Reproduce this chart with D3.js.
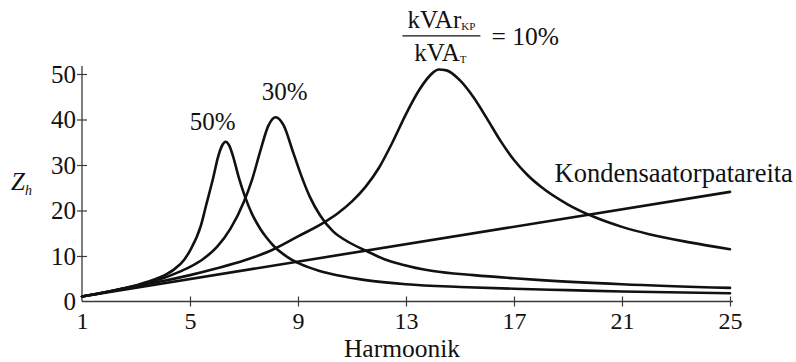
<!DOCTYPE html>
<html>
<head>
<meta charset="utf-8">
<script src="https://cdn.jsdelivr.net/npm/d3@7/dist/d3.min.js"></script>
<style>
  html, body { margin: 0; padding: 0; background: #fff; }
  svg { display: block; }
  text { font-family: "Liberation Serif", "Times New Roman", serif; fill: #111; }
</style>
</head>
<body>
<svg id="chart" width="796" height="362"></svg>
<script>
// Harmonic impedance Z_h for three capacitor-bank ratings and the bank alone.
const xTicks = [1, 5, 9, 13, 17, 21, 25];
const yTicks = [0, 10, 20, 30, 40, 50];

// kVAr_KP / kVA_T = 50 %
const h50 = [1, 2, 3, 3.4, 4, 4.4, 4.8, 5.0, 5.4, 5.6, 5.86, 6.05, 6.2, 6.32, 6.45, 6.6, 6.8, 7.04, 7.3, 7.6, 7.84, 8.1, 8.6, 9.1, 9.8, 10.5, 11.5, 13, 15, 17, 19, 21, 25];
const z50 = [1.1, 2.2, 3.5, 4.3, 5.6, 7.0, 9.3, 11.2, 16.6, 21.2, 27.2, 32.0, 34.4, 35.1, 34.3, 31.8, 27.4, 23.0, 19.2, 16.0, 14.0, 12.2, 9.8, 8.2, 6.7, 5.7, 4.7, 3.8, 3.2, 2.8, 2.5, 2.2, 1.8];

// 30 %
const h30 = [1, 2, 3, 4, 4.6, 5.0, 5.5, 6.0, 6.5, 7.0, 7.3, 7.6, 7.9, 8.17, 8.46, 8.83, 9.1, 9.44, 9.81, 10.3, 10.8, 11.5, 12.2, 12.8, 14, 15.5, 17, 18, 21, 25];
const z30 = [1.1, 2.2, 3.5, 5.1, 6.5, 7.6, 9.4, 12.0, 16.0, 22.0, 26.8, 33.0, 38.6, 40.5, 38.8, 32.6, 28.0, 23.0, 19.0, 15.4, 13.3, 11.2, 9.3, 8.2, 6.7, 5.8, 5.1, 4.7, 3.8, 3.0];

// 10 %
const h10 = [1, 2, 3, 4, 5, 6, 7, 8, 9, 10, 10.5, 11, 11.5, 12, 12.5, 13, 13.5, 14, 14.2, 14.5, 15, 15.5, 16, 16.5, 17, 17.5, 18, 19, 20, 21, 22, 23.5, 25];
const z10 = [1.1, 2.2, 3.4, 4.5, 5.8, 7.3, 9.0, 11.2, 14.3, 17.5, 19.5, 22.0, 25.2, 29.4, 35.0, 41.2, 46.6, 50.3, 51.0, 50.8, 48.6, 44.9, 40.2, 35.3, 31.1, 27.8, 25.2, 21.3, 18.5, 16.4, 14.8, 13.0, 11.5];

// Capacitor bank on its own
const hBank = [1, 25];
const zBank = [1.1, 24.1];

const svg = d3.select("#chart");

const x = d3.scaleLinear().domain([1, 25]).range([82, 730]);
const y = d3.scaleLinear().domain([0, 50]).range([301.5, 74]);

const axisColor = "#3a3a3a";

// Axis lines, drawn a little past the last ticks
svg.append("line")
  .attr("x1", x(1)).attr("x2", x(25) + 3)
  .attr("y1", y(0)).attr("y2", y(0))
  .attr("stroke", axisColor).attr("stroke-width", 1.3);
svg.append("line")
  .attr("x1", x(1)).attr("x2", x(1))
  .attr("y1", y(0)).attr("y2", y(50) - 8)
  .attr("stroke", axisColor).attr("stroke-width", 1.3);

// x axis
const gx = svg.append("g")
  .attr("transform", `translate(0,${y(0)})`)
  .call(d3.axisBottom(x).tickValues(xTicks).tickFormat(d3.format("d")).tickSize(5));
gx.select(".domain").remove();
gx.selectAll(".tick line")
  .attr("y1", -5).attr("y2", 5)
  .attr("stroke", axisColor).attr("stroke-width", 1.2);
gx.selectAll(".tick text")
  .attr("y", 27.5).attr("dy", null)
  .attr("font-size", 24)
  .attr("font-family", "Liberation Serif")
  .attr("fill", "#111");
// the first tick sits on the y axis: no tick mark there
gx.selectAll(".tick").filter(d => d === 1).select("line").remove();

// y axis
const gy = svg.append("g")
  .attr("transform", `translate(${x(1)},0)`)
  .call(d3.axisLeft(y).tickValues(yTicks).tickFormat(d3.format("d")).tickSize(5));
gy.select(".domain").remove();
gy.selectAll(".tick line")
  .attr("x1", -5).attr("x2", 5)
  .attr("stroke", axisColor).attr("stroke-width", 1.2);
gy.selectAll(".tick").filter(d => d === 0).select("line").remove();
gy.selectAll(".tick text")
  .attr("x", -6).attr("dy", "0.33em")
  .attr("font-size", 25)
  .attr("font-family", "Liberation Serif")
  .attr("fill", "#111");

// Axis titles
svg.append("text")
  .attr("x", x(13) - 4)
  .attr("y", 357)
  .attr("text-anchor", "middle")
  .attr("font-size", 25.5)
  .text("Harmoonik");

const zt = svg.append("text")
  .attr("x", 11)
  .attr("y", 190)
  .attr("font-size", 25)
  .attr("font-style", "italic");
zt.append("tspan").text("Z");
zt.append("tspan").attr("font-size", 14).attr("dy", 5).text("h");

// Curves
const line = d3.line()
  .x(d => x(d[0]))
  .y(d => y(d[1]))
  .curve(d3.curveMonotoneX);

const series = [
  { h: hBank, z: zBank },
  { h: h50, z: z50 },
  { h: h30, z: z30 },
  { h: h10, z: z10 }
];

svg.append("g")
  .selectAll("path")
  .data(series)
  .join("path")
  .attr("d", s => line(s.h.map((v, i) => [v, s.z[i]])))
  .attr("fill", "none")
  .attr("stroke", "#111")
  .attr("stroke-width", 2.6)
  .attr("stroke-linejoin", "round")
  .attr("stroke-linecap", "round");

// Curve labels placed from each peak
function peak(h, z) {
  const i = d3.maxIndex(z);
  return [h[i], z[i]];
}
const p50 = peak(h50, z50);
const p30 = peak(h30, z30);
const p10 = peak(h10, z10);

svg.append("text")
  .attr("x", x(p50[0]) - 13)
  .attr("y", y(p50[1]) - 12)
  .attr("text-anchor", "middle")
  .attr("font-size", 25)
  .text("50%");

svg.append("text")
  .attr("x", x(p30[0]) + 9)
  .attr("y", y(p30[1]) - 17)
  .attr("text-anchor", "middle")
  .attr("font-size", 25)
  .text("30%");

const bankLabelH = 18.5;
svg.append("text")
  .attr("x", x(bankLabelH))
  .attr("y", y(zBank[0] + (zBank[1] - zBank[0]) * (bankLabelH - hBank[0]) / (hBank[1] - hBank[0])) - 38)
  .attr("font-size", 26.5)
  .text("Kondensaatorpatareita");

// Ratio label above the 10 % peak: kVAr_KP / kVA_T = 10%
const fx = x(p10[0]) + 3;       // centre of the fraction
const fy = y(p10[1]) - 33.5;    // fraction bar
const frac = svg.append("g");
frac.append("line")
  .attr("x1", fx - 39).attr("x2", fx + 39)
  .attr("y1", fy).attr("y2", fy)
  .attr("stroke", "#111").attr("stroke-width", 1.3);
const num = frac.append("text")
  .attr("x", fx).attr("y", fy - 7.5)
  .attr("text-anchor", "middle")
  .attr("font-size", 25);
num.append("tspan").text("kVAr");
num.append("tspan").attr("font-size", 11).attr("dy", 2).text("KP");
const den = frac.append("text")
  .attr("x", fx - 1).attr("y", fy + 25.5)
  .attr("text-anchor", "middle")
  .attr("font-size", 25);
den.append("tspan").text("kVA");
den.append("tspan").attr("font-size", 11).attr("dy", 2).text("T");
frac.append("text")
  .attr("x", fx + 50).attr("y", fy + 9.5)
  .attr("font-size", 25.5)
  .text("= 10%");
</script>
</body>
</html>
